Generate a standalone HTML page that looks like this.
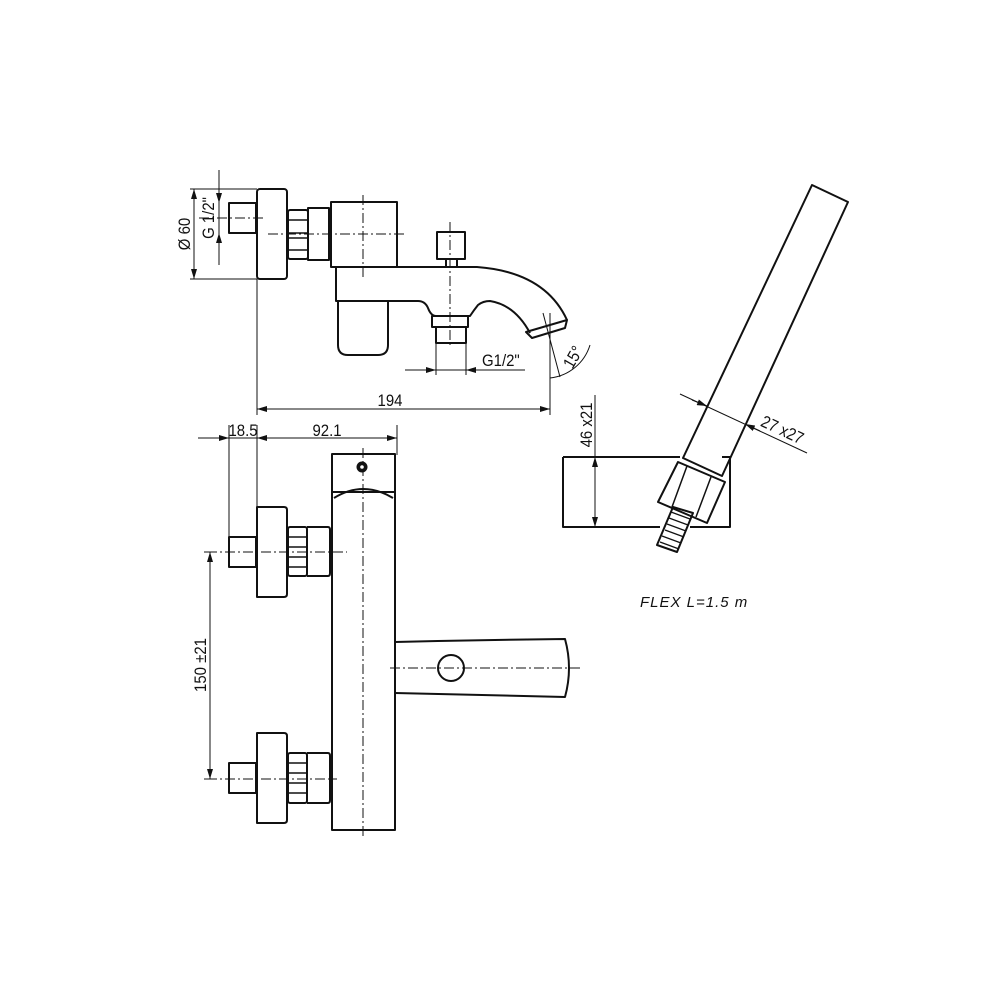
<!DOCTYPE html>
<html><head><meta charset="utf-8"><style>
html,body{margin:0;padding:0;background:#fff;}
svg{display:block;}
text{font-family:"Liberation Sans",sans-serif;fill:#111;}
</style></head><body>
<svg width="1000" height="1000" viewBox="0 0 1000 1000" xmlns="http://www.w3.org/2000/svg">
<defs>
<marker id="a" viewBox="0 0 10 6" refX="10" refY="3" markerWidth="10" markerHeight="6" orient="auto-start-reverse" markerUnits="userSpaceOnUse"><path d="M0,0 L10,3 L0,6 z" fill="#111"/></marker>
</defs>
<g fill="none" stroke="#111" stroke-width="2" stroke-linejoin="round">
<rect x="257" y="189" width="30" height="90" rx="3"/>
<rect x="229" y="203" width="27" height="30"/>
<rect x="288" y="210" width="20" height="49" rx="2"/>
<path d="M288 220H308M288 233H308M288 238H308M288 250H308" stroke-width="1.5"/>
<rect x="308" y="208" width="21" height="52"/>
<rect x="331" y="202" width="66" height="65"/>
<path d="M336 267V301H418Q425 301 428 308Q431 316 436 316H470Q474 310 478 305Q483 301 490 301Q515 305 530 333"/>
<path d="M397 267H477Q545 272 567 320"/>
<path d="M526 332L567 320L565 328L532 338Z"/>
<path d="M338 301V345Q338 355 348 355H378Q388 355 388 345V301"/>
<rect x="437" y="232" width="28" height="27"/>
<path d="M446 259V267M457 259V267"/>
<rect x="432" y="316" width="36" height="11"/>
<rect x="436" y="327" width="30" height="16"/>
</g>
<g fill="none" stroke="#111" stroke-width="1">
<path d="M199 218H265M268 234H405M363 195V280M450 222V345" stroke-dasharray="10,3,2,3"/>
<path d="M190 189H257M190 279H257"/>
<line x1="194" y1="189" x2="194" y2="279" marker-start="url(#a)" marker-end="url(#a)"/>
<path d="M219 170V265"/>
<line x1="219" y1="182" x2="219" y2="203" marker-end="url(#a)"/>
<line x1="219" y1="254" x2="219" y2="233" marker-end="url(#a)"/>
<path d="M257 279V415M550 313V415"/>
<line x1="257" y1="409" x2="550" y2="409" marker-start="url(#a)" marker-end="url(#a)"/>
<path d="M436 343V375M466 343V375M405 370H525"/>
<line x1="410" y1="370" x2="436" y2="370" marker-end="url(#a)"/>
<line x1="492" y1="370" x2="466" y2="370" marker-end="url(#a)"/>
<path d="M543 313L560 377"/>
<path d="M550 378A47 47 0 0 0 590 345"/>
<line x1="198" y1="438" x2="229" y2="438" marker-end="url(#a)"/>
<line x1="229" y1="438" x2="397" y2="438"/>
<line x1="272" y1="438" x2="257" y2="438" marker-end="url(#a)"/>
<line x1="380" y1="438" x2="397" y2="438" marker-end="url(#a)"/>
<path d="M229 425V537M257 425V507M397 425V455"/>
<path d="M204 552H215M204 779H215"/>
<line x1="210" y1="552" x2="210" y2="779" marker-start="url(#a)" marker-end="url(#a)"/>
<path d="M207 552H347M207 779H337M363 448V836M390 668H582" stroke-dasharray="10,3,2,3"/>
</g>
<g fill="none" stroke="#111" stroke-width="2" stroke-linejoin="round">
<rect x="332" y="454" width="63" height="376"/>
<path d="M332 492H395M334 498Q363 480 393 498"/>
<path d="M257 507H284Q287 507 287 510V594Q287 597 284 597H257Z"/>
<rect x="229" y="537" width="27" height="30"/>
<rect x="288" y="527" width="19" height="49" rx="2"/>
<path d="M288 537H307M288 547H307M288 557H307M288 567H307" stroke-width="1.5"/>
<path d="M307 527H328Q330 527 330 530V573Q330 576 328 576H307"/>
<path d="M257 733H284Q287 733 287 736V820Q287 823 284 823H257Z"/>
<rect x="229" y="763" width="27" height="30"/>
<rect x="288" y="753" width="19" height="50" rx="2"/>
<path d="M288 763H307M288 773H307M288 783H307M288 793H307" stroke-width="1.5"/>
<path d="M307 753H328Q330 753 330 756V800Q330 803 328 803H307"/>
<path d="M395 642Q480 640 565 639Q573 668 565 697Q480 695 395 693"/>
<circle cx="451" cy="668" r="13"/>
<path d="M812 185L848 202L722 476L683 458Z"/>
<path d="M678 462L725 482L707 523L658 502Z"/>
<path d="M687 466L672 507M711 477L696 517" stroke-width="1.5"/>
<path d="M673 507L693 513L677 552L657 545Z"/>
<path d="M671 512L690 519M669 518L688 525M667 524L686 531M665 530L684 537M662 536L681 543M660 542L679 549" stroke-width="1.3"/>
<path d="M563 457H680M722 457H730V527H690M660 527H563V457"/>
</g>
<circle cx="362" cy="467" r="5.5" fill="#111"/>
<circle cx="362" cy="467" r="1.8" fill="#fff"/>
<g fill="none" stroke="#111" stroke-width="1">
<path d="M595 395V457"/>
<line x1="595" y1="457" x2="595" y2="527" marker-start="url(#a)" marker-end="url(#a)"/>
<path d="M680 394L807 453"/>
<line x1="692" y1="400" x2="707" y2="406" marker-end="url(#a)"/>
<line x1="760" y1="431" x2="745" y2="424" marker-end="url(#a)"/>
</g>
<g font-size="17">
<text x="390" y="406" text-anchor="middle" transform="translate(390 0) scale(0.88 1) translate(-390 0)">194</text>
<text x="482" y="366" transform="translate(482 0) scale(0.88 1) translate(-482 0)">G1/2"</text>
<text x="243" y="436" text-anchor="middle" transform="translate(243 0) scale(0.88 1) translate(-243 0)">18.5</text>
<text x="327" y="436" text-anchor="middle" transform="translate(327 0) scale(0.88 1) translate(-327 0)">92.1</text>
<text transform="translate(190 234) rotate(-90) scale(0.88 1)" text-anchor="middle">Ø 60</text>
<text transform="translate(214 218) rotate(-90) scale(0.88 1)" text-anchor="middle">G 1/2"</text>
<text transform="translate(206 665) rotate(-90) scale(0.88 1)" text-anchor="middle">150 ±21</text>
<text transform="translate(592 425) rotate(-90) scale(0.88 1)" text-anchor="middle">46 x21</text>
<text transform="translate(578 360) rotate(-60) scale(0.88 1)" text-anchor="middle">15°</text>
<text transform="translate(780 435) rotate(25) scale(0.88 1)" text-anchor="middle">27 x27</text>
<text x="640" y="607" font-style="italic" font-size="15" letter-spacing="1">FLEX  L=1.5  m</text>
</g>
</svg>
</body></html>
